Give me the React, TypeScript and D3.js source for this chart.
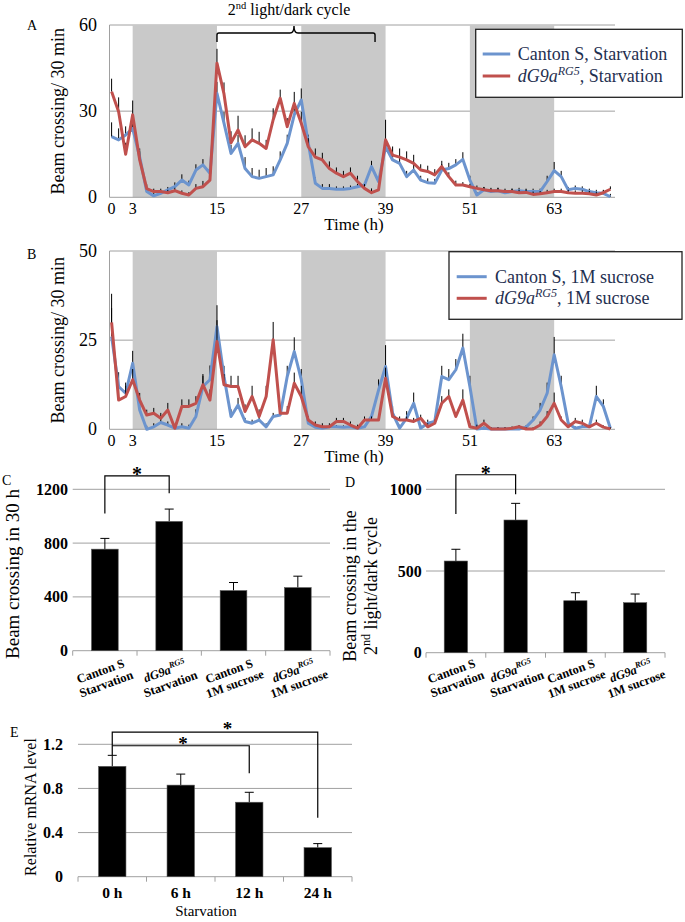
import React from 'react';
import * as d3 from 'd3';

const FONT = "'Liberation Serif', 'Times New Roman', serif";
const BLUE = '#6C94CE';
const RED = '#C0504D';
const GRID = '#A0A0A0';
const SHADE = '#C9C9C9';

// ---------- Time series (hourly readings, h = 0..71) ----------
const hours = d3.range(72);
const timeTicks = [0, 3, 15, 27, 39, 51, 63];
const darkPhases = [[3, 15], [27, 39], [51, 63]];
const aTicks = [0, 30, 60];
const bTicks = [0, 25, 50];

const aBlue = [21.1, 20, 21.7, 24, 14, 2, 0.5, 1.4, 2.6, 3.7,
  6, 4.3, 9.5, 11.3, 8.4, 36.2, 25.8, 15.3, 18.8, 10,
  7.2, 6.6, 7.2, 7.8, 13, 18.8, 28.7, 33.9, 18.8, 4.9,
  3.1, 3.1, 2.8, 2.8, 3.1, 3.7, 4.3, 10.7, 5.5, 17.6,
  13, 11.8, 7.2, 9.5, 6, 5.1, 4.9, 9.5, 10, 11.3,
  13.2, 6, 0.8, 2.6, 2, 2.3, 1.6, 2, 2.3, 2,
  2, 2, 5.5, 9.3, 7.2, 2.6, 3.1, 2.8, 2, 1.6,
  1.4, 0.2];
const aBlueErr = [5, 4, 3, 3, 3, 1, 1, 1, 1, 1.5,
  2, 1.5, 2, 2, 2, 4, 4, 3, 3, 4,
  3, 3, 3, 3, 3, 3, 4, 4, 3, 2,
  1.5, 1.5, 1, 1, 1, 1, 1, 2, 1.5, 3,
  2, 2, 2, 2, 1.5, 1.5, 1.5, 2, 2, 2,
  2.5, 1.5, 1, 1, 1, 1, 1, 1, 1, 1,
  1, 1, 2, 3, 2, 1, 1, 1, 1, 1,
  1, 1];
const aRed = [36.8, 29.8, 15, 28.7, 13, 3, 2, 2, 1.6, 2.3,
  1.4, 0.8, 3.1, 3.7, 6, 46.7, 36, 19, 23.4, 17.6,
  20, 18.8, 17, 27, 34.5, 24.6, 32.7, 25.8, 17.6, 14,
  13, 10, 8.4, 7.2, 8.4, 5.5, 3.1, 1.6, 2.6, 20,
  14.7, 14, 13, 11.8, 9.5, 9, 7.8, 10.7, 7.2, 4.3,
  4.3, 3.7, 3.1, 2.6, 2.3, 2.3, 2, 2, 1.6, 1.7,
  1, 1.2, 1.6, 2, 2, 1.6, 1.4, 1.4, 1.2, 0.8,
  1.6, 2.8];
const aRedErr = [4.5, 5, 4, 5, 3, 1.5, 1, 1, 1, 1,
  1, 1, 1.5, 2, 3, 5, 4, 4, 5, 4,
  4, 4, 3, 4, 3, 3, 4, 4, 3, 3,
  2.5, 2.5, 2, 2, 2, 2, 1.5, 1.5, 1.5, 7,
  3, 3, 3, 3, 2, 2, 2, 2, 1.5, 1.5,
  1, 1, 1, 1, 1, 1, 1, 1, 1, 1,
  1, 1, 1, 1, 1, 1, 1, 1, 1, 1,
  1, 1];

const bBlue = [26, 12, 10.1, 18.5, 5.4, 0, 0.7, 1.9, 1.2, 0.3,
  0.7, 0.3, 3.6, 12, 13.9, 28.8, 14.8, 3.6, 6.8, 2.2,
  1.7, 2.6, 0.7, 3.6, 4, 14.8, 21.8, 13.9, 1.7, 0.6,
  0.3, 0.7, 0.7, 0.6, 0.7, 0.3, 0.7, 3.6, 11, 17.6,
  4.5, 0.3, 3.1, 7.3, 0.3, 1.7, 2.2, 14.8, 13.9, 16.7,
  22.8, 12, 0.1, 0.3, 0.1, 0.1, 0.1, 0.1, 0.1, 0.6,
  2.6, 5.4, 10.1, 20.9, 12, 1.7, 0.3, 0.7, 0.7, 9.2,
  6.4, 0.3];
const bBlueErr = [8, 4, 3, 3.5, 2, 1, 1, 1, 1, 1,
  1, 1, 2, 3, 4, 6, 3, 2, 2, 1,
  1, 1, 1, 1, 2, 3, 4, 3, 1, 1,
  0.5, 0.5, 0.5, 0.5, 0.5, 0.5, 0.5, 1, 3, 6,
  2, 1, 2, 3, 1, 1, 1, 3, 3, 3,
  4, 3, 0.5, 0.5, 0.5, 0.5, 0.5, 0.5, 0.5, 0.5,
  1, 2, 3, 5, 3, 1, 0.5, 0.5, 0.5, 3,
  2, 0.5];
const bRed = [30, 8.2, 9.2, 13.9, 8.2, 4, 4.5, 3.1, 5.4, 0.3,
  6.4, 6.4, 7.3, 12.5, 8.2, 24.6, 12.5, 12, 12, 5,
  9.2, 3.6, 9.2, 25.1, 4.5, 4.5, 12.9, 9.2, 2.6, 1.2,
  0.7, 0.7, 2.2, 2.2, 1.2, 0.3, 2.6, 2.6, 2.6, 14.3,
  3.6, 2.6, 2.6, 2.2, 3.1, 0.7, 1.7, 7.3, 9.2, 3.6,
  8.2, 0.7, 0.3, 1.7, 0.1, 0.1, 0.1, 0.3, 0.7, 0.1,
  0.1, 1.2, 3.6, 7.3, 2.6, 0.7, 2.2, 1.7, 0.7, 1.7,
  0.6, 0.1];
const bRedErr = [8, 3, 3, 3, 2, 1.5, 1.5, 1.5, 2, 1,
  2, 2, 2, 3, 3, 6, 3, 3, 3, 2,
  3, 2, 3, 5, 2, 2, 3, 3, 1, 1,
  1, 1, 1, 1, 1, 1, 1, 1, 1, 3,
  1, 1, 1, 1, 1, 1, 1, 2, 2, 1,
  3, 1, 1, 1, 0.5, 0.5, 0.5, 0.5, 0.5, 0.5,
  0.5, 1, 1.5, 3, 1, 0.5, 1, 1, 0.5, 1,
  0.5, 0.5];

// ---------- Bar charts ----------
const barCats = ['csStarv', 'dgStarv', 'csSuc', 'dgSuc'];
const barLine1 = ['Canton S', 'dG9a', 'Canton S', 'dG9a'];
const barSup = ['', 'RG5', '', 'RG5'];
const barLine2 = ['Starvation', 'Starvation', '1M sucrose', '1M sucrose'];
const cMeans = [755, 961, 447, 469];
const cErr = [80, 92, 60, 85];
const cTicks = [0, 400, 800, 1200];
const dMeans = [561, 812, 318, 306];
const dErr = [72, 102, 49, 53];
const dTicks = [0, 500, 1000];
const eCats = ['0 h', '6 h', '12 h', '24 h'];
const eMeans = [1.0, 0.83, 0.675, 0.263];
const eErr = [0.1, 0.1, 0.09, 0.037];
const eTicks = [0, 0.4, 0.8, 1.2];

const xT = d3.scaleLinear().domain([0, 72]).range([111.6, 617.4]);
const PL = 109.5, PR = 615;

function TimePanel({ y, ticks, blue, blueErr, red, redErr, legend, label, labelY }: any) {
  const line = d3.line<number>().x((_, i) => xT(hours[i])).y(d => y(d));
  const top = y(ticks[ticks.length - 1]);
  const bottom = y(0);
  return (
    <g>
      {ticks.filter((t: number) => t > 0).map((t: number) => (
        <line key={t} x1={PL} x2={PR} y1={y(t)} y2={y(t)} stroke={GRID} strokeWidth={1} />
      ))}
      {darkPhases.map(([a, b]) => (
        <rect key={a} x={xT(a)} y={top} width={xT(b) - xT(a)} height={bottom - top} fill={SHADE} />
      ))}
      <line x1={PL} x2={PR} y1={bottom} y2={bottom} stroke={GRID} strokeWidth={1} />
      <line x1={PL} x2={PL} y1={top} y2={bottom} stroke={GRID} strokeWidth={1} />
      {ticks.map((t: number) => (
        <text key={t} x={97} y={y(t) + 6} textAnchor="end" fontSize={18}>{t}</text>
      ))}
      {timeTicks.map(t => (
        <text key={t} x={xT(t)} y={bottom + 17} textAnchor="middle" fontSize={16}>{t}</text>
      ))}
      <text x={354} y={bottom + 33} textAnchor="middle" fontSize={17}>Time (h)</text>
      <text transform={`translate(64,${(top + bottom) / 2}) rotate(-90)`} textAnchor="middle" fontSize={18}>Beam crossing/ 30 min</text>
      <text x={27} y={labelY} fontSize={14}>{label}</text>
      {blue.map((v: number, i: number) => (
        <line key={'be' + i} x1={xT(hours[i])} x2={xT(hours[i])} y1={y(v)} y2={y(v + blueErr[i])} stroke="#000" strokeWidth={1} />
      ))}
      <path d={line(blue) || ''} fill="none" stroke={BLUE} strokeWidth={3} strokeLinejoin="round" />
      {red.map((v: number, i: number) => (
        <line key={'re' + i} x1={xT(hours[i])} x2={xT(hours[i])} y1={y(v)} y2={y(v + redErr[i])} stroke="#000" strokeWidth={1} />
      ))}
      <path d={line(red) || ''} fill="none" stroke={RED} strokeWidth={3} strokeLinejoin="round" />
      <g>
        <rect x={legend.x} y={legend.y} width={legend.w} height={legend.h} fill="#fff" stroke="#222" strokeWidth={1.3} />
        <line x1={legend.lx} x2={legend.lx + legend.lw} y1={legend.y1} y2={legend.y1} stroke={BLUE} strokeWidth={3} />
        <line x1={legend.lx} x2={legend.lx + legend.lw} y1={legend.y2} y2={legend.y2} stroke={RED} strokeWidth={3} />
        <text x={legend.tx} y={legend.y1 + 6} fontSize={18} fill="#1F3050">Canton S, {legend.suffix}</text>
        <text x={legend.tx} y={legend.y2 + 6} fontSize={18} fill="#1F3050">
          <tspan fontStyle="italic">dG9a</tspan>
          <tspan fontStyle="italic" fontSize={12} dy={-7}>RG5</tspan>
          <tspan dy={7}>, {legend.suffix}</tspan>
        </text>
      </g>
    </g>
  );
}

function BarPanel({ x, y, means, errs, ticks, labelX, children }: any) {
  const [x0, x1] = x.range();
  const bottom = y(0);
  const bw = x.bandwidth();
  const step = x.step();
  return (
    <g>
      {ticks.filter((t: number) => t > 0).map((t: number) => (
        <line key={t} x1={x0} x2={x1} y1={y(t)} y2={y(t)} stroke={GRID} strokeWidth={1} />
      ))}
      <line x1={x0} x2={x1} y1={bottom} y2={bottom} stroke={GRID} strokeWidth={1} />
      {d3.range(x.domain().length + 1).map(i => (
        <line key={i} x1={x0 + i * step} x2={x0 + i * step} y1={bottom} y2={bottom + 5} stroke={GRID} strokeWidth={1} />
      ))}
      {ticks.map((t: number) => (
        <text key={t} x={labelX} y={y(t) + 5.5} textAnchor="end" fontSize={16} fontWeight="bold">{t}</text>
      ))}
      {x.domain().map((c: string, i: number) => {
        const cx = (x(c) as number) + bw / 2;
        return (
          <g key={c}>
            <line x1={cx} x2={cx} y1={y(means[i])} y2={y(means[i] + errs[i])} stroke="#000" strokeWidth={1} />
            <line x1={cx - 4.5} x2={cx + 4.5} y1={y(means[i] + errs[i])} y2={y(means[i] + errs[i])} stroke="#000" strokeWidth={1} />
            <rect x={x(c)} y={y(means[i])} width={bw} height={bottom - y(means[i])} fill="#000" stroke="#555" strokeWidth={0.6} />
          </g>
        );
      })}
      {children}
    </g>
  );
}

function CatLabels({ x, y }: any) {
  const bw = x.bandwidth();
  return (
    <g>
      {x.domain().map((c: string, i: number) => {
        const cx = (x(c) as number) + bw / 2 - 3;
        return (
          <g key={c} transform={`translate(${cx},${y})`}>
            <g transform="rotate(-20)">
              <text x={0} y={0} textAnchor="middle" fontWeight="bold" fontSize={12.5}>
                {barSup[i] ? (
                  <>
                    <tspan fontStyle="italic">{barLine1[i]}</tspan>
                    <tspan fontStyle="italic" fontSize={8.5} dy={-5}>{barSup[i]}</tspan>
                  </>
                ) : barLine1[i]}
              </text>
              <text x={1} y={14} textAnchor="middle" fontWeight="bold" fontSize={12.5}>{barLine2[i]}</text>
            </g>
          </g>
        );
      })}
    </g>
  );
}

function Bracket({ x0, x1, yl, yt, yr, starX, fontSize }: any) {
  return (
    <g>
      <path d={`M${x0},${yl}V${yt}H${x1}V${yr}`} fill="none" stroke="#000" strokeWidth={1.2} />
      <text x={starX} y={yt + 5} textAnchor="middle" fontSize={fontSize} fontWeight="bold">*</text>
    </g>
  );
}

export default function App() {
  const yA = d3.scaleLinear().domain([0, 60]).range([197.3, 25]);
  const yB = d3.scaleLinear().domain([0, 50]).range([429.3, 251]);

  const xC = d3.scaleBand<string>().domain(barCats).range([72.7, 330]).paddingInner(0.585).paddingOuter(0.2925);
  const yC = d3.scaleLinear().domain([0, 1200]).range([650.7, 489.3]);
  const xD = d3.scaleBand<string>().domain(barCats).range([426, 665]).paddingInner(0.61).paddingOuter(0.305);
  const yD = d3.scaleLinear().domain([0, 1000]).range([652.7, 489.3]);
  const xE = d3.scaleBand<string>().domain(eCats).range([78, 352]).paddingInner(0.6).paddingOuter(0.3);
  const yE = d3.scaleLinear().domain([0, 1.2]).range([876.7, 744.3]);

  const cc = (x: any, c: string) => (x(c) as number) + x.bandwidth() / 2;

  return (
    <svg width={685} height={922} viewBox="0 0 685 922" style={{ position: 'absolute', left: 0, top: 0, background: '#fff' }} fontFamily={FONT}>
      <rect x={0} y={0} width={685} height={922} fill="#fff" />
      {/* Panel A */}
      <TimePanel y={yA} ticks={aTicks} blue={aBlue} blueErr={aBlueErr} red={aRed} redErr={aRedErr}
        label="A" labelY={30}
        legend={{ x: 475.7, y: 29.3, w: 206.6, h: 68, lx: 482.7, lw: 27.5, tx: 517.7, y1: 54, y2: 76, suffix: 'Starvation' }} />
      {/* 2nd light/dark cycle bracket */}
      <path d={`M${xT(15)},42V35Q${xT(15)},33 ${xT(15) + 2},33H290Q294,33 294,26Q294,33 298,33H${xT(37.5) - 2}Q${xT(37.5)},33 ${xT(37.5)},35V42`}
        fill="none" stroke="#000" strokeWidth={1.4} />
      <text x={289} y={15} textAnchor="middle" fontSize={16}>
        2<tspan fontSize={10.5} dy={-6}>nd</tspan><tspan dy={6}> light/dark cycle</tspan>
      </text>
      {/* Panel B */}
      <TimePanel y={yB} ticks={bTicks} blue={bBlue} blueErr={bBlueErr} red={bRed} redErr={bRedErr}
        label="B" labelY={259}
        legend={{ x: 449, y: 251.7, w: 233, h: 67.6, lx: 456.7, lw: 30, tx: 495, y1: 276.7, y2: 298.3, suffix: '1M sucrose' }} />

      {/* Panel C */}
      <BarPanel x={xC} y={yC} means={cMeans} errs={cErr} ticks={cTicks} labelX={68}>
        <Bracket x0={cc(xC, barCats[0])} x1={cc(xC, barCats[1])} yl={yC(1020)} yt={yC(1300)} yr={yC(1170)}
          starX={(cc(xC, barCats[0]) + cc(xC, barCats[1])) / 2} fontSize={20} />
      </BarPanel>
      <CatLabels x={xC} y={675} />
      <text transform="translate(19,574) rotate(-90)" textAnchor="middle" fontSize={19}>Beam crossing in 30 h</text>
      <text x={2} y={485} fontSize={14}>C</text>

      {/* Panel D */}
      <BarPanel x={xD} y={yD} means={dMeans} errs={dErr} ticks={dTicks} labelX={421.7}>
        <Bracket x0={cc(xD, barCats[0])} x1={cc(xD, barCats[1])} yl={yD(849)} yt={yD(1089)} yr={yD(969)}
          starX={(cc(xD, barCats[0]) + cc(xD, barCats[1])) / 2} fontSize={20} />
      </BarPanel>
      <CatLabels x={xD} y={675} />
      <text transform="translate(356,586) rotate(-90)" textAnchor="middle" fontSize={18}>Beam crossing in the</text>
      <text transform="translate(377,586) rotate(-90)" textAnchor="middle" fontSize={18}>
        2<tspan fontSize={12} dy={-7}>nd</tspan><tspan dy={7}> light/dark cycle</tspan>
      </text>
      <text x={345} y={487} fontSize={14}>D</text>

      {/* Panel E */}
      <BarPanel x={xE} y={yE} means={eMeans} errs={eErr} ticks={eTicks} labelX={63}>
        <path d={`M${cc(xE, eCats[0])},${yE(1.1)}V${yE(1.31)}H${cc(xE, eCats[3])}V${yE(0.535)}`} fill="none" stroke="#000" strokeWidth={1.2} />
        <path d={`M${cc(xE, eCats[0])},${yE(1.187)}H${cc(xE, eCats[2])}V${yE(0.937)}`} fill="none" stroke="#000" strokeWidth={1.2} />
        <text x={227.5} y={yE(1.31) + 3} textAnchor="middle" fontSize={19} fontWeight="bold">*</text>
        <text x={183} y={yE(1.187) + 4} textAnchor="middle" fontSize={19} fontWeight="bold">*</text>
      </BarPanel>
      {eCats.map(c => (
        <text key={c} x={cc(xE, c)} y={898} textAnchor="middle" fontSize={15.5} fontWeight="bold">{c}</text>
      ))}
      <text x={206} y={916} textAnchor="middle" fontSize={15}>Starvation</text>
      <text transform="translate(36,807) rotate(-90)" textAnchor="middle" fontSize={16}>Relative mRNA level</text>
      <text x={10} y={737} fontSize={14}>E</text>
    </svg>
  );
}
